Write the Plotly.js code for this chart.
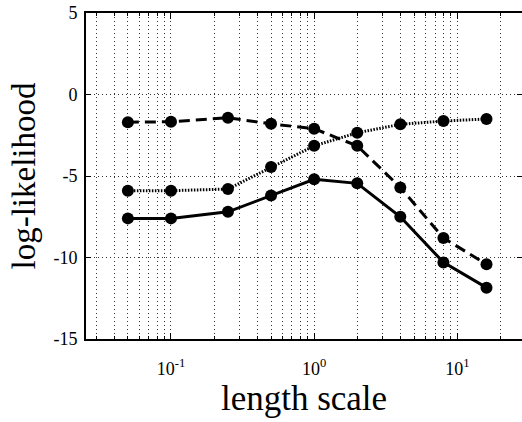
<!DOCTYPE html>
<html>
<head>
<meta charset="utf-8">
<script src="https://cdn.plot.ly/plotly-3.0.1.min.js"></script>
<style>html,body{margin:0;padding:0;background:#fff;}#chart{width:522px;height:422px;}</style>
</head>
<body>
<div id="chart"></div>
<script>
// length scale values (x)
var lengthScale = [0.05, 0.1, 0.25, 0.5, 1, 2, 4, 8, 16];
// log-likelihood series
var solidSeries  = [-7.6, -7.6, -7.2, -6.2, -5.2, -5.45, -7.5, -10.3, -11.85];
var dashedSeries = [-1.7, -1.67, -1.43, -1.8, -2.1, -3.15, -5.7, -8.8, -10.42];
var dottedSeries = [-5.9, -5.9, -5.8, -4.45, -3.15, -2.35, -1.83, -1.63, -1.5];
// tick labels
var xMajorVals = [0.1, 1, 10];
var xMajorText = ['10<sup>-1</sup>', '10<sup>0</sup>', '10<sup>1</sup>'];
var yTickVals = [-15, -10, -5, 0, 5];
var yTickText = ['-15', '-10', '-5', '0', '5'];

var minorVals = [];
[0.01, 0.1, 1, 10].forEach(function(d){
  for (var k = 2; k <= 9; k++) minorVals.push(k * d);
});

var serif = 'Liberation Serif, Times New Roman, serif';
var gridDash = '1px,3px';
var gridCol = '#333';
function trace(y, dash){
  return {
    x: lengthScale, y: y, type: 'scatter', mode: 'lines+markers',
    line: {color: '#000', width: 3, dash: dash},
    marker: {color: '#000', size: 12},
    showlegend: false, hoverinfo: 'skip'
  };
}
var data = [
  trace(solidSeries, 'solid'),
  trace(dashedSeries, '11px,6px'),
  trace(dottedSeries, '1.5px,1.5px')
];
var layout = {
  width: 522, height: 422,
  margin: {l: 86, r: 0, t: 13, b: 83},
  paper_bgcolor: '#fff', plot_bgcolor: '#fff',
  font: {family: serif, color: '#000'},
  xaxis: {
    type: 'log', range: [-1.5936, 1.452],
    tickmode: 'array', tickvals: xMajorVals, ticktext: xMajorText,
    ticks: 'inside', ticklen: 6, tickwidth: 1, tickcolor: '#000',
    showline: true, linewidth: 2, linecolor: '#000', mirror: 'allticks',
    showgrid: true, gridcolor: gridCol, gridwidth: 1, griddash: gridDash,
    minor: {tickmode: 'array', tickvals: minorVals, ticks: 'inside', ticklen: 3, tickcolor: '#000',
            showgrid: true, gridcolor: gridCol, gridwidth: 1, griddash: gridDash},
    tickfont: {family: serif, size: 18, color: '#000'},
    ticklabelstandoff: 12,
    zeroline: false,
    title: {text: 'length scale', font: {family: serif, size: 35, color: '#000'}, standoff: 6}
  },
  yaxis: {
    range: [-15, 5],
    tickmode: 'array', tickvals: yTickVals, ticktext: yTickText,
    ticks: 'inside', ticklen: 5, tickwidth: 1, tickcolor: '#000',
    showline: true, linewidth: 2, linecolor: '#000', mirror: 'allticks',
    showgrid: true, gridcolor: gridCol, gridwidth: 1, griddash: gridDash,
    tickfont: {family: serif, size: 18, color: '#000'},
    ticklabelstandoff: 3,
    zeroline: false,
    title: {text: 'log-likelihood', font: {family: serif, size: 33, color: '#000'}, standoff: 8}
  }
};
Plotly.newPlot('chart', data, layout, {displayModeBar: false, staticPlot: true});
</script>
</body>
</html>
